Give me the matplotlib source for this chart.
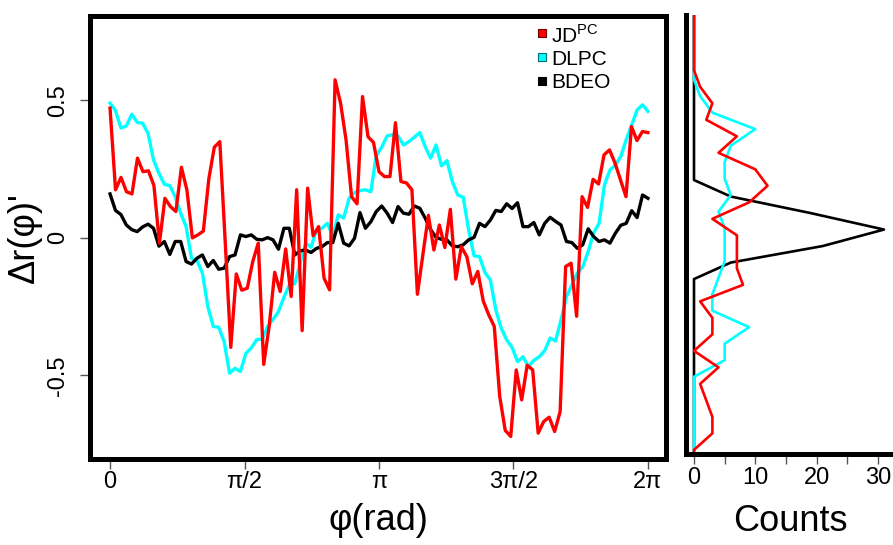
import numpy as np
import matplotlib
matplotlib.use('Agg')
import matplotlib.pyplot as plt

plt.rcParams['font.family'] = ['Liberation Sans', 'DejaVu Sans']
plt.rcParams['mathtext.fontset'] = 'custom'
plt.rcParams['mathtext.rm'] = 'Liberation Sans'

# ---------------- data ----------------
jdpc = [0.472, 0.175, 0.22, 0.168, 0.16, 0.29, 0.241, 0.244, 0.19, -0.019,
        0.144, 0.114, 0.096, 0.257, 0.175, 0.0, 0.011, 0.025, 0.215, 0.33,
        0.35, -0.02, -0.398, -0.131, -0.19, -0.183, -0.086, -0.019, -0.46, -0.32,
        -0.125, -0.195, -0.04, -0.213, 0.175, -0.337, 0.181, 0.008, 0.041, -0.147,
        -0.189, 0.575, 0.49, 0.356, 0.15, 0.124, 0.514, 0.368, 0.347, 0.241,
        0.223, 0.223, 0.419, 0.205, 0.20, 0.175, -0.205, -0.06, 0.082, -0.044,
        0.047, -0.035, 0.104, -0.15, -0.032, -0.068, -0.167, -0.122, -0.23, -0.28,
        -0.322, -0.577, -0.70, -0.722, -0.48, -0.589, -0.463, -0.48, -0.71, -0.668,
        -0.652, -0.704, -0.632, -0.104, -0.092, -0.285, 0.15, 0.111, 0.213, 0.196,
        0.302, 0.32, 0.272, 0.211, 0.15, 0.405, 0.354, 0.387, 0.383]

dlpc = [0.49, 0.463, 0.40, 0.407, 0.45, 0.42, 0.417, 0.38, 0.284, 0.235,
        0.195, 0.19, 0.15, 0.09, 0.041, -0.074, -0.082, -0.128, -0.25, -0.322,
        -0.325, -0.377, -0.492, -0.474, -0.486, -0.42, -0.40, -0.37, -0.368, -0.322,
        -0.296, -0.268, -0.216, -0.171, -0.167, -0.092, -0.019, -0.034, 0.029, 0.035,
        0.053, 0.007, 0.084, 0.072, 0.144, 0.165, 0.172, 0.175, 0.168, 0.30,
        0.33, 0.371, 0.375, 0.371, 0.338, 0.35, 0.366, 0.383, 0.332, 0.29,
        0.338, 0.262, 0.281, 0.205, 0.156, 0.148, 0.029, -0.065, -0.068, -0.126,
        -0.153, -0.262, -0.328, -0.371, -0.398, -0.45, -0.432, -0.468, -0.445, -0.432,
        -0.41, -0.364, -0.375, -0.298, -0.214, -0.171, -0.128, -0.105, -0.05, 0.018,
        0.053, 0.193, 0.247, 0.265, 0.296, 0.357, 0.41, 0.465, 0.484, 0.46]

bdeo = [0.16, 0.10, 0.085, 0.047, 0.03, 0.023, 0.04, 0.05, 0.035, -0.03,
        -0.013, -0.06, -0.013, -0.013, -0.086, -0.095, -0.074, -0.062, -0.104, -0.082,
        -0.114, -0.11, -0.068, -0.062, 0.011, 0.005, 0.011, -0.005, -0.007, 0.001,
        -0.007, -0.041, 0.035, 0.035, -0.062, -0.047, -0.044, -0.053, -0.038, -0.032,
        -0.017, -0.017, 0.053, -0.019, -0.029, -0.001, 0.092, 0.035, 0.059, 0.096,
        0.116, 0.09, 0.056, 0.114, 0.09, 0.086, 0.116, 0.108, 0.072, 0.03,
        0.002, -0.005, -0.007, -0.029, -0.032, -0.025, -0.007, 0.002, 0.053, 0.041,
        0.065, 0.10, 0.096, 0.124, 0.107, 0.128, 0.041, 0.041, 0.056, 0.011,
        0.053, 0.075, 0.06, 0.047, -0.013, -0.017, -0.038, -0.025, 0.033, 0.005,
        -0.013, -0.007, -0.019, 0.017, 0.046, 0.053, 0.099, 0.074, 0.156, 0.144]

# marginal frequency polygons: bin centres (Δr) and counts, per series
jdpc_bins = [0.90, 0.61, 0.55, 0.49, 0.43, 0.37, 0.31, 0.25, 0.19, 0.13,
             0.07, 0.01, -0.05, -0.11, -0.17, -0.23, -0.29, -0.35, -0.41, -0.47,
             -0.53, -0.59, -0.65, -0.71, -0.77, -0.90]
jdpc_counts = [0, 0, 1, 3, 2, 7, 4, 10, 12, 9,
               3, 7, 7, 7, 8, 1, 3, 3, 0, 4,
               1, 2, 3, 3, 0, 0]
dlpc_bins = [0.90, 0.576, 0.516, 0.456, 0.396, 0.336, 0.276, 0.216, 0.156, 0.096,
             0.036, -0.024, -0.084, -0.144, -0.204, -0.264, -0.324, -0.384, -0.444, -0.504,
             -0.90]
dlpc_counts = [0, 0, 1, 3, 10, 6, 5, 5, 6, 4,
               5, 5, 5, 4, 3, 3, 9, 5, 5, 0,
               0]
bdeo_bins = [0.90, 0.211, 0.151, 0.091, 0.031, -0.029, -0.089, -0.149, -0.90]
bdeo_counts = [0, 0, 6, 19, 31, 21, 6, 0, 0]

series_labels = ['JD$^{\\mathrm{PC}}$', 'DLPC', 'BDEO']
series_colors = ['#FF0000', '#00FFFF', '#000000']
edge_colors = ['#6e0000', '#006e6e', '#000000']
xtick_vals = [0, np.pi / 2, np.pi, 3 * np.pi / 2, 2 * np.pi]
xtick_labels = ['0', 'π/2', 'π', '3π/2', '2π']
ytick_vals = [-0.5, 0, 0.5]
ytick_labels = ['-0.5', '0', '0.5']
count_ticks = [0, 5, 10, 15, 20, 25, 30]
count_labels = ['0', '', '10', '', '20', '', '30']

# ---------------- figure ----------------
W, H = 893, 545
fig = plt.figure(figsize=(W / 100, H / 100), dpi=100)


def px_axes(l, t, r, b):
    return fig.add_axes([l / W, 1 - b / H, (r - l) / W, (b - t) / H])


TICK_FS = 17
LW = 2.4
ax = px_axes(90, 16, 666, 459)
for data, col in [(dlpc, series_colors[1]), (bdeo, series_colors[2]), (jdpc, series_colors[0])]:
    x = np.linspace(0, 2 * np.pi, len(data))
    ax.plot(x, data, color=col, lw=LW, solid_joinstyle='round')
ax.set_xlim(-0.234, 6.494)
ax.set_ylim(-0.804, 0.807)
for sp in ax.spines.values():
    sp.set_linewidth(3.6)
ax.set_xticks(xtick_vals)
ax.set_xticklabels(xtick_labels)
ax.set_yticks(ytick_vals)
ax.set_yticklabels(ytick_labels, rotation=90, va='center')
ax.tick_params(axis='both', direction='out', length=7, width=1, color='#555555',
               labelsize=TICK_FS)
ax.tick_params(axis='x', pad=2)
ax.tick_params(axis='y', pad=8)
ax.set_xlabel('φ(rad)', fontsize=26, labelpad=7)
ax.set_ylabel("Δr(φ)'", fontsize=26, labelpad=4)

# legend drawn by hand (axes-fraction coordinates)
leg_x_sq, leg_x_txt = 0.784, 0.800
leg_rows = [0.9616, 0.9074, 0.8540]
for lab, fc, ec, yy in zip(series_labels, series_colors, edge_colors, leg_rows):
    ax.plot([leg_x_sq], [yy], transform=ax.transAxes, marker='s', ms=6.2,
            mfc=fc, mec=ec, mew=0.8, ls='none', clip_on=False)
    ax.text(leg_x_txt, yy, lab, transform=ax.transAxes, fontsize=15,
            va='center_baseline', ha='left')

# ---------------- marginal histogram ----------------
hx = px_axes(686, 15, 895, 454)
for b, c, col in [(bdeo_bins, bdeo_counts, series_colors[2]),
                  (dlpc_bins, dlpc_counts, series_colors[1]),
                  (jdpc_bins, jdpc_counts, series_colors[0])]:
    hx.plot(c, b, color=col, lw=1.9)
hx.set_xlim(-1.305, 32.8)
hx.set_ylim(-0.785, 0.811)
hx.spines['top'].set_visible(False)
hx.spines['right'].set_visible(False)
hx.spines['left'].set_linewidth(3.6)
hx.spines['bottom'].set_linewidth(3.6)
hx.set_yticks([])
hx.set_xticks(count_ticks)
hx.set_xticklabels(count_labels)
hx.tick_params(axis='x', direction='out', length=7, width=1, color='#555555',
               labelsize=TICK_FS, pad=2)
hx.set_xlabel('Counts', fontsize=26, labelpad=11)

fig.savefig('out.png', dpi=100)
